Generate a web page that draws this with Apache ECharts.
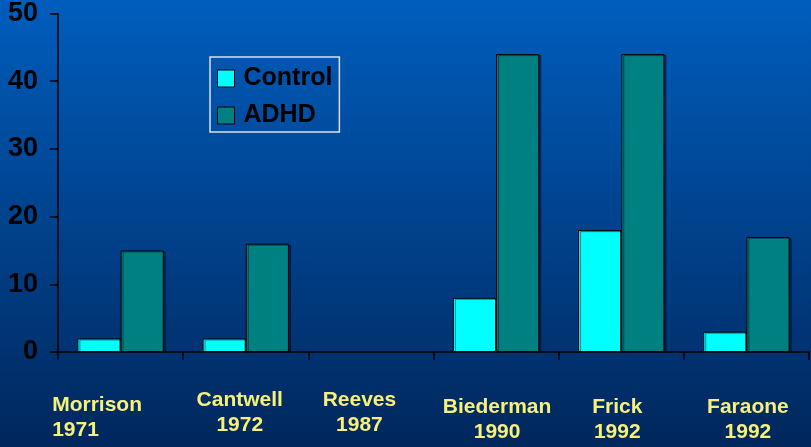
<!DOCTYPE html>
<html>
<head>
<meta charset="utf-8">
<script src="https://cdn.jsdelivr.net/npm/echarts@6/dist/echarts.min.js"></script>
<style>html,body{margin:0;padding:0;}#c{width:811px;height:447px;}</style>
</head>
<body>
<div id="c"></div>
<script>
// ---- data ----
const studies = ['Morrison', 'Cantwell', 'Reeves', 'Biederman', 'Frick', 'Faraone'];
const years = ['1971', '1972', '1987', '1990', '1992', '1992'];
const controlValues = [2, 2, null, 8, 18, 3];
const adhdValues = [15, 16, null, 44, 44, 17];
const seriesNames = ['Control', 'ADHD'];
const yTicks = { min: 0, max: 50, interval: 10 };

// ---- label layout (style only) ----
// [paddingTop, paddingRight, paddingLeft, align]
const labelShift = [
  [10, 47, 0, 'left'],
  [0, 12, 0, 'center'],
  [0, 23, 0, 'center'],
  [14, 0, 2, 'center'],
  [14, 8, 0, 'center'],
  [14, 0, 3, 'center']
];
const rich = {};
labelShift.forEach((s, i) => {
  const base = { color: '#F8F07A', fontSize: 21, fontWeight: 'bold', fontFamily: 'Liberation Sans, Arial, sans-serif', lineHeight: 25, align: s[3] };
  rich['t' + i] = Object.assign({}, base, { padding: [s[0], s[1], 0, s[2]] });
  rich['b' + i] = Object.assign({}, base, { padding: [s[0], s[1], 0, s[2]] });
});

const chart = echarts.init(document.getElementById('c'), null, { renderer: 'canvas' });
chart.setOption({
  animation: false,
  backgroundColor: {
    type: 'linear', x: 0, y: 0, x2: 0, y2: 1,
    colorStops: [{ offset: 0, color: '#005DBD' }, { offset: 1, color: '#00275C' }]
  },
  grid: { left: 58, right: 2, top: 13, bottom: 95, containLabel: false },
  legend: {
    orient: 'vertical',
    left: 210, top: 57,
    padding: [9, 7, 4, 7],
    borderColor: '#E0E0E0', borderWidth: 1.5,
    itemWidth: 17, itemHeight: 17, itemGap: 12,
    icon: 'rect',
    itemStyle: { borderColor: '#000', borderWidth: 1 },
    textStyle: { color: '#000', fontSize: 25, fontWeight: 'bold', fontFamily: 'Liberation Sans, Arial, sans-serif', lineHeight: 25, padding: [0, 0, 0, 4] },
    data: seriesNames
  },
  xAxis: {
    type: 'category',
    data: studies,
    boundaryGap: true,
    axisLine: { lineStyle: { color: '#000', width: 1.5 } },
    axisTick: { show: true, length: 8, lineStyle: { color: '#000', width: 1.5 } },
    axisLabel: {
      interval: 0, margin: 36,
      formatter: (v, i) => '{t' + i + '|' + v + '}\n{b' + i + '|' + years[i] + '}',
      rich: rich
    }
  },
  yAxis: {
    type: 'value',
    min: yTicks.min, max: yTicks.max, interval: yTicks.interval,
    splitLine: { show: false },
    axisLine: { show: true, lineStyle: { color: '#000', width: 1.5 } },
    axisTick: { show: true, length: 8, lineStyle: { color: '#000', width: 1.5 } },
    axisLabel: { color: '#000', fontSize: 27, fontWeight: 'bold', fontFamily: 'Liberation Sans, Arial, sans-serif', margin: 20, padding: [3, 0, 0, 0] }
  },
  series: [
    {
      name: seriesNames[0], type: 'bar', data: controlValues,
      barGap: '0%', barCategoryGap: '31%',
      itemStyle: { color: '#00FFFF', borderColor: '#000', borderWidth: 1, shadowColor: 'rgba(0,0,30,0.45)', shadowOffsetX: 2, shadowOffsetY: 1 }
    },
    {
      name: seriesNames[1], type: 'bar', data: adhdValues,
      barGap: '0%', barCategoryGap: '31%',
      itemStyle: { color: '#008080', borderColor: '#000', borderWidth: 1, shadowColor: 'rgba(0,0,30,0.45)', shadowOffsetX: 2, shadowOffsetY: 1 }
    }
  ]
});
</script>
</body>
</html>
